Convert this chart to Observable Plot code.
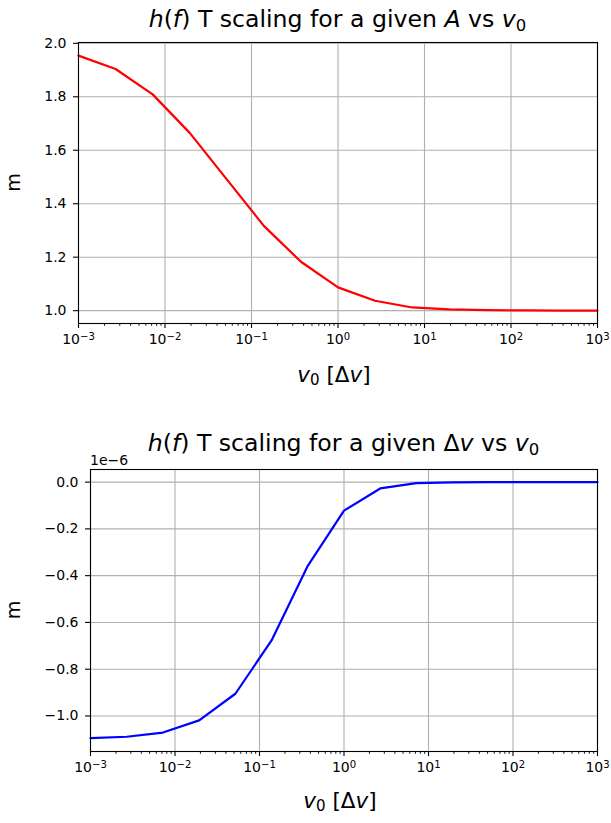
<!DOCTYPE html>
<html><head><meta charset="utf-8">
<script src="https://cdn.jsdelivr.net/npm/d3@7"></script>
<script src="https://cdn.jsdelivr.net/npm/@observablehq/plot@0.6"></script>
<style>
body{margin:0;background:#fff;}
svg{display:block;}
</style>
</head><body><div id="chart"></div>
<script>
// x values (v0 in units of Δv), 15 log-spaced points
const v0 = [1e-3, 2.683e-3, 7.197e-3, 1.931e-2, 5.179e-2, 0.1389, 0.3728, 1, 2.683, 7.197, 19.31, 51.79, 138.9, 372.8, 1000];
// top panel: m for a given A
const mA = [1.954, 1.904, 1.809, 1.665, 1.491, 1.317, 1.183, 1.087, 1.037, 1.012, 1.005, 1.002, 1.001, 1.0, 1.0];
// bottom panel: m for a given Δv (in units of 1e-6)
const mDv = [-1.095, -1.089, -1.071, -1.019, -0.905, -0.677, -0.358, -0.122, -0.027, -0.004, -0.001, 0, 0, 0, 0];
const xMajorTicks = [1e-3, 1e-2, 1e-1, 1, 1e1, 1e2, 1e3];
const yTicksTop = [1.0, 1.2, 1.4, 1.6, 1.8, 2.0];
const yTicksBottom = [0.0, -0.2, -0.4, -0.6, -0.8, -1.0];
const offsetText = "1e−6";

const xMinorTicks = [];
for (let e = -3; e < 3; e++) for (let k = 2; k <= 9; k++) xMinorTicks.push(k * Math.pow(10, e));

const FONT = "DejaVu Sans";

function makePlot({data, color, yDomain, yTicks, yFmt, mL, mT, mB, height}) {
  return Plot.plot({
    width: 611, height,
    marginLeft: mL, marginRight: 14, marginTop: mT, marginBottom: mB,
    style: {fontFamily: FONT, fontSize: "14px", color: "black", background: "white", overflow: "visible"},
    x: {type: "log", domain: [1e-3, 1e3]},
    y: {domain: yDomain},
    marks: [
      Plot.gridX(xMajorTicks, {stroke: "#b0b0b0", strokeOpacity: 1, strokeWidth: 1.1}),
      Plot.gridY(yTicks, {stroke: "#b0b0b0", strokeOpacity: 1, strokeWidth: 1.1}),
      Plot.line(data, {x: "x", y: "y", stroke: color, strokeWidth: 2.2}),
      Plot.frame({stroke: "black", strokeWidth: 1.1}),
      Plot.axisX(xMajorTicks, {tickSize: 5, tickPadding: 6, strokeWidth: 1.1, label: null, fontSize: 14,
        tickFormat: d => "10^" + Math.round(Math.log10(d))}),
      Plot.axisX(xMinorTicks, {tickSize: 2.8, strokeWidth: 0.9, label: null, tickFormat: () => ""}),
      Plot.axisY(yTicks, {tickSize: 5, tickPadding: 7, strokeWidth: 1.1, label: null, fontSize: 14, tickFormat: yFmt})
    ]
  });
}

function fixPowers(svg) {
  d3.select(svg).selectAll("text").each(function() {
    const t = this.textContent;
    const m = /^10\^(-?\d+)$/.exec(t);
    if (!m) return;
    const sel = d3.select(this);
    sel.text("");
    sel.append("tspan").text("10");
    sel.append("tspan").attr("dy", "-0.42em").attr("font-size", "0.72em").text(m[1].replace("-", "−"));
  });
}

function addRich(svg, x, y, parts, size, opts = {}) {
  const t = d3.select(svg).append("text")
    .attr("x", x).attr("y", y)
    .attr("font-family", FONT).attr("font-size", size)
    .attr("fill", "black")
    .attr("text-anchor", opts.anchor || "middle")
    .style("white-space", "pre");
  if (opts.rotate) t.attr("transform", `rotate(${opts.rotate},${x},${y})`);
  let shifted = false;
  for (const [txt, st] of parts) {
    const ts = t.append("tspan").text(txt);
    if (st === "i") ts.attr("font-style", "italic");
    if (st === "sub") { ts.attr("dy", "0.22em").attr("font-size", "0.7em"); shifted = true; }
    else if (shifted) { ts.attr("dy", "-0.154em"); shifted = false; }
  }
  return t;
}

const root = document.getElementById("chart");

// ---- top panel ----
const p1 = makePlot({
  data: v0.map((x, i) => ({x, y: mA[i]})),
  color: "#ff0000",
  yDomain: [0.952, 2.003],
  yTicks: yTicksTop,
  yFmt: d => d.toFixed(1),
  mL: 78, mT: 42, mB: 88, height: 411
});
fixPowers(p1);
addRich(p1, 337.5, 27, [["h","i"],["("],["f","i"],[") T scaling for a given "],["A","i"],[" vs "],["v","i"],["0","sub"]], 23.6);
addRich(p1, 334, 382, [["v","i"],["0","sub"],[" [Δ"],["v","i"],["]"]], 21.5);
addRich(p1, 20, 182.5, [["m"]], 19, {rotate: -90});
root.appendChild(p1);

// ---- bottom panel ----
const p2 = makePlot({
  data: v0.map((x, i) => ({x, y: mDv[i] * 1e-6})),
  color: "#0000ff",
  yDomain: [-1.152e-6, 0.054e-6],
  yTicks: yTicksBottom.map(v => v * 1e-6),
  yFmt: d => { const v = d * 1e6; return Math.abs(v) < 1e-9 ? "0.0" : (v < 0 ? "−" : "") + Math.abs(v).toFixed(1); },
  mL: 90, mT: 58, mB: 72, height: 412
});
fixPowers(p2);
addRich(p2, 343.5, 40, [["h","i"],["("],["f","i"],[") T scaling for a given Δ"],["v","i"],[" vs "],["v","i"],["0","sub"]], 23.6);
addRich(p2, 340, 397, [["v","i"],["0","sub"],[" [Δ"],["v","i"],["]"]], 21.5);
addRich(p2, 20, 199, [["m"]], 19, {rotate: -90});
addRich(p2, 90, 54, [[offsetText]], 14, {anchor: "start"});
root.appendChild(p2);
</script>
</body></html>
